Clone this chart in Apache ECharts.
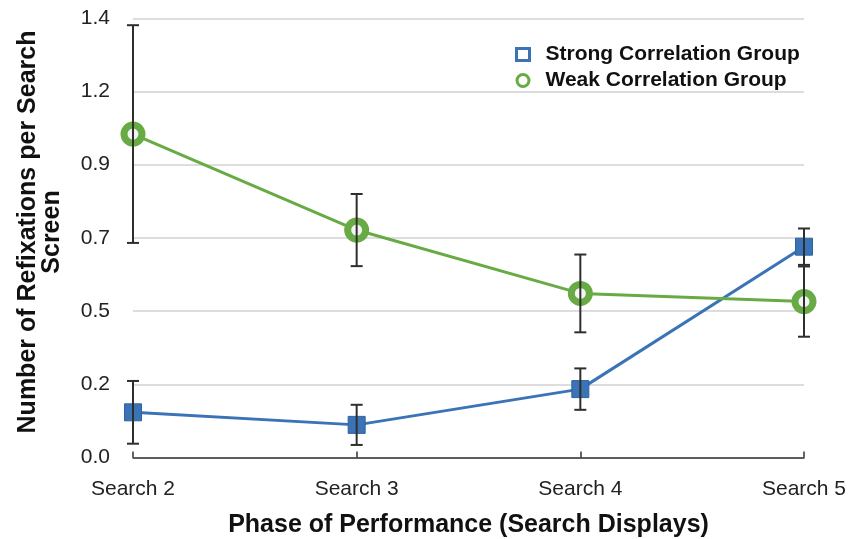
<!DOCTYPE html>
<html>
<head>
<meta charset="utf-8">
<script src="https://cdn.jsdelivr.net/npm/echarts@6/dist/echarts.min.js"></script>
<style>
  html, body { margin: 0; padding: 0; background: #fff; }
  #chart { width: 859px; height: 539px; }
</style>
</head>
<body>
<div id="chart"></div>
<script>
// Phases on the x axis
const categories = ['Search 2', 'Search 3', 'Search 4', 'Search 5'];
// Mean refixations per screen and their error half-widths
const strongMeans = [0.144, 0.104, 0.218, 0.672];
const strongErr = [0.100, 0.064, 0.066, 0.058];
const weakMeans = [1.031, 0.725, 0.523, 0.497];
const weakErr = [0.347, 0.115, 0.124, 0.112];

const BLUE = '#3b74b6';
const GREEN = '#68ab45';
const FONT = '"Liberation Sans", Arial, Helvetica, sans-serif';

function errorRows(means, errs) {
  return means.map((m, i) => [i, m - errs[i], m + errs[i]]);
}

function renderError(params, api) {
  const x = api.value(0);
  const lo = api.coord([x, api.value(1)]);
  const hi = api.coord([x, api.value(2)]);
  const half = 6;
  const style = { stroke: '#2e2e2e', lineWidth: 2 };
  return {
    type: 'group',
    children: [
      { type: 'line', shape: { x1: lo[0], y1: lo[1], x2: hi[0], y2: hi[1] }, style: style },
      { type: 'line', shape: { x1: hi[0] - half, y1: hi[1], x2: hi[0] + half, y2: hi[1] }, style: style },
      { type: 'line', shape: { x1: lo[0] - half, y1: lo[1], x2: lo[0] + half, y2: lo[1] }, style: style }
    ]
  };
}

const chart = echarts.init(document.getElementById('chart'), null, { renderer: 'canvas' });
chart.setOption({
  animation: false,
  backgroundColor: '#fff',
  textStyle: { fontFamily: FONT },
  grid: { left: 133, right: 55, top: 18.3, bottom: 81.5, outerBoundsMode: 'none', containLabel: false },
  legend: {
    orient: 'vertical',
    left: 510,
    top: 39,
    itemGap: 5,
    itemWidth: 13,
    itemHeight: 12,
    textStyle: { fontFamily: FONT, fontWeight: 'bold', fontSize: 21, color: '#111', padding: [0, 0, 0, 11] },
    data: [
      { name: 'Strong Correlation Group', icon: 'rect',
        itemStyle: { color: '#fff', borderColor: BLUE, borderWidth: 3 } },
      { name: 'Weak Correlation Group', icon: 'circle',
        itemStyle: { color: '#fff', borderColor: GREEN, borderWidth: 3 } }
    ]
  },
  xAxis: {
    type: 'category',
    data: categories,
    boundaryGap: false,
    name: 'Phase of Performance (Search Displays)',
    nameLocation: 'middle',
    nameGap: 55,
    nameTextStyle: { fontFamily: FONT, fontWeight: 'bold', fontSize: 25, color: '#111' },
    axisLine: { lineStyle: { color: '#333', width: 1.5 } },
    axisTick: { inside: true, length: 6, lineStyle: { color: '#333', width: 1.5 } },
    axisLabel: { fontFamily: FONT, fontSize: 21, color: '#222', margin: 21 },
    splitLine: { show: false }
  },
  yAxis: {
    type: 'value',
    min: 0,
    max: 1.4,
    interval: 1.4 / 6,
    axisLine: { show: false },
    axisTick: { show: false },
    axisLabel: {
      fontFamily: FONT, fontSize: 21, color: '#222', margin: 23,
      formatter: v => v.toFixed(1)
    },
    splitLine: { lineStyle: { color: '#d2d2d2', width: 1.5 } }
  },
  graphic: [{
    type: 'text',
    x: 40,
    y: 232,
    rotation: Math.PI / 2,
    style: {
      text: 'Number of Refixations per Search\nScreen',
      fontFamily: FONT,
      fontWeight: 'bold',
      fontSize: 25,
      lineHeight: 24,
      fill: '#111',
      textAlign: 'center',
      textVerticalAlign: 'middle'
    }
  }],
  series: [
    {
      name: 'Strong Correlation Group',
      type: 'line',
      data: strongMeans,
      symbol: 'rect',
      symbolSize: 17,
      lineStyle: { color: BLUE, width: 3 },
      itemStyle: { color: BLUE, borderColor: '#2f629e', borderWidth: 1 },
      z: 3
    },
    {
      name: 'Weak Correlation Group',
      type: 'line',
      data: weakMeans,
      symbol: 'circle',
      symbolSize: 18,
      lineStyle: { color: GREEN, width: 3 },
      itemStyle: { color: '#f4f4f4', borderColor: GREEN, borderWidth: 7 },
      z: 3
    },
    {
      type: 'custom',
      renderItem: renderError,
      data: errorRows(strongMeans, strongErr),
      encode: { x: 0, y: [1, 2] },
      z: 5,
      silent: true
    },
    {
      type: 'custom',
      renderItem: renderError,
      data: errorRows(weakMeans, weakErr),
      encode: { x: 0, y: [1, 2] },
      z: 5,
      silent: true
    }
  ]
});
</script>
</body>
</html>
